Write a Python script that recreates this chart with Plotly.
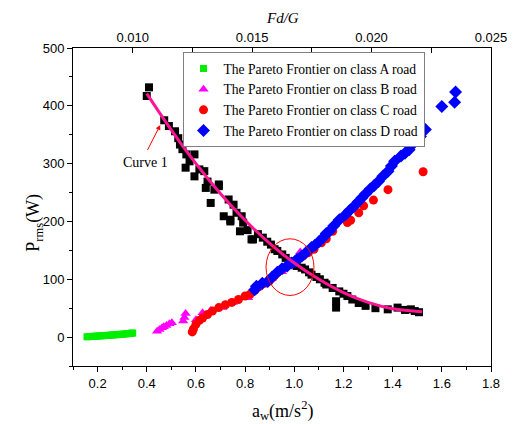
import plotly.graph_objects as go

# ---------------- data ----------------
# Class A road (green squares)
a_x = [0.157, 0.165, 0.172, 0.180, 0.188, 0.195, 0.203, 0.211, 0.219, 0.227, 0.235,
       0.243, 0.251, 0.259, 0.267, 0.275, 0.283, 0.291, 0.299, 0.307, 0.315, 0.323,
       0.331, 0.338, 0.343]
a_y = [0.5, 0.8, 1.0, 1.2, 1.4, 1.6, 1.9, 2.1, 2.3, 2.6, 2.8,
       3.1, 3.3, 3.6, 3.9, 4.1, 4.4, 4.7, 5.0, 5.3, 5.6, 5.9,
       6.3, 6.7, 7.0]

# Class B road (magenta triangles)
b_x = [0.442, 0.452, 0.462, 0.469, 0.480, 0.492, 0.502, 0.548, 0.553, 0.558,
       0.600, 0.627, 0.660, 0.707, 0.750, 0.812, 0.850, 0.900, 0.950, 1.000, 1.024]
b_y = [10, 13, 16, 18, 20, 23, 25, 28, 34, 41,
       30, 42, 46, 51, 60, 68, 86, 99, 113, 126, 147]

# Class C road (red circles)
c_x = [0.585, 0.590, 0.600, 0.614, 0.627, 0.647, 0.667, 0.693, 0.720, 0.746, 0.773,
       0.800, 0.820, 0.840, 0.859, 0.880, 0.898, 0.915, 0.931, 0.950, 0.971, 0.990,
       1.010, 1.035, 1.057, 1.080, 1.110, 1.130, 1.156, 1.216, 1.229, 1.262, 1.282,
       1.322, 1.381, 1.524]
c_y = [9, 14, 22, 29, 33, 39, 45, 51, 56, 60, 65,
       71, 74, 81, 88, 93, 97, 104, 111, 117, 123, 128,
       133, 140, 146, 152, 163, 170, 183, 198, 202, 215, 227,
       237, 255, 286]

# Class D road (blue diamonds)
d_x = [0.839, 0.846, 0.870, 0.892, 0.910, 0.931, 0.950, 0.971, 0.990, 1.004, 1.011,
       1.030, 1.050, 1.070, 1.084, 1.100, 1.117, 1.130, 1.143, 1.160, 1.183, 1.209,
       1.225, 1.242, 1.260, 1.275, 1.290, 1.309, 1.325, 1.342, 1.360, 1.381, 1.395,
       1.408, 1.434, 1.450, 1.467, 1.480, 1.500, 1.513, 1.533, 1.600, 1.652, 1.656]
d_y = [82, 88, 93, 96, 104, 112, 118, 123, 128, 131, 134,
       140, 147, 155, 159, 165, 172, 179, 183, 192, 203, 212,
       219, 226, 234, 241, 248, 256, 262, 269, 278, 287, 296,
       304, 313, 318, 324, 333, 340, 347, 359, 399, 406, 424]

# Black squares (unlabelled Pareto points)
k_x = [0.400, 0.409, 0.471, 0.490, 0.515, 0.528, 0.535, 0.545, 0.558, 0.561, 0.574,
       0.594, 0.594, 0.614, 0.634, 0.640, 0.647, 0.660, 0.675, 0.693, 0.693, 0.713,
       0.733, 0.740, 0.740, 0.753, 0.765, 0.779, 0.786, 0.792, 0.810, 0.826, 0.832,
       0.852, 0.872, 0.890, 0.905, 0.920, 0.931, 0.951, 0.965, 0.984, 1.000, 1.010,
       1.030, 1.044, 1.060, 1.070, 1.090, 1.104, 1.123, 1.130, 1.156, 1.170, 1.170,
       1.183, 1.200, 1.216, 1.236, 1.262, 1.290, 1.330, 1.380, 1.420, 1.450, 1.474,
       1.490, 1.507]
k_y = [417, 432, 375, 365, 356, 344, 333, 325, 293, 316, 304,
       316, 278, 290, 287, 258, 269, 232, 255, 264, 261, 209,
       238, 200, 203, 229, 215, 183, 209, 198, 185, 169, 169,
       178, 172, 165, 160, 152, 149, 143, 137, 131, 127, 123,
       120, 117, 112, 108, 104, 100, 94, 91, 85, 51, 62,
       79, 75, 71, 65, 59, 54, 50, 48, 51, 47, 48,
       45, 43]

# Curve 1 (fitted line)
curve_x = [0.40, 0.50, 0.60, 0.70, 0.80, 0.90, 1.00, 1.10, 1.20, 1.30, 1.40, 1.52]
curve_y = [421, 358, 300, 248, 202, 162, 128, 100, 77, 60, 49, 44]

# Tick labels
x_ticks = [0.2, 0.4, 0.6, 0.8, 1.0, 1.2, 1.4, 1.6, 1.8]
y_ticks = [0, 100, 200, 300, 400, 500]
top_ticks = [0.010, 0.015, 0.020, 0.025]
top_labels = ["0.010", "0.015", "0.020", "0.025"]

SERIF = "Liberation Serif, Times New Roman, serif"
SANS = "Liberation Sans, Arial, sans-serif"

fig = go.Figure()

fig.add_trace(go.Scatter(x=k_x, y=k_y, mode="markers", showlegend=False,
                         marker=dict(symbol="square", size=8, color="black")))
fig.add_trace(go.Scatter(x=a_x, y=a_y, mode="markers",
                         name="The Pareto Frontier on class A road",
                         marker=dict(symbol="square", size=7, color="#00ee00")))
fig.add_trace(go.Scatter(x=b_x, y=b_y, mode="markers",
                         name="The Pareto Frontier on class B road",
                         marker=dict(symbol="triangle-up", size=9, color="#ff00ff")))
fig.add_trace(go.Scatter(x=c_x, y=c_y, mode="markers",
                         name="The Pareto Frontier on class C road",
                         marker=dict(symbol="circle", size=9, color="#ff0000")))
fig.add_trace(go.Scatter(x=d_x, y=d_y, mode="markers",
                         name="The Pareto Frontier on class D road",
                         marker=dict(symbol="diamond", size=10, color="#0000ff")))
fig.add_trace(go.Scatter(x=curve_x, y=curve_y, mode="lines", showlegend=False,
                         line=dict(color="#ff1493", width=3, shape="spline")))
# invisible trace to activate the top axis
fig.add_trace(go.Scatter(x=[top_ticks[0]], y=[None], xaxis="x2", mode="markers",
                         showlegend=False, hoverinfo="skip"))

fig.update_layout(
    width=519, height=424,
    margin=dict(l=73, r=17, t=48, b=58),
    paper_bgcolor="white", plot_bgcolor="white",
    font=dict(family=SANS, size=13, color="black"),
    xaxis=dict(range=[0.1, 1.8], tickvals=x_ticks, tickformat=".1f",
               ticks="outside", ticklen=5, tickcolor="black",
               minor=dict(dtick=0.1, ticks="outside", ticklen=3, tickcolor="black"),
               showline=True, linecolor="black", linewidth=1,
               showgrid=False, zeroline=False),
    xaxis2=dict(range=[0.0075, 0.025], overlaying="x", side="top", anchor="y",
                tickvals=top_ticks, ticktext=top_labels,
                ticks="inside", ticklen=5, tickcolor="black",
                minor=dict(tickvals=[0.0125, 0.0175, 0.0225], ticks="inside",
                           ticklen=5, tickcolor="black"),
                showline=True, linecolor="black", linewidth=1,
                showgrid=False, zeroline=False),
    yaxis=dict(range=[-50, 500], tickvals=y_ticks,
               ticks="outside", ticklen=5, tickcolor="black",
               minor=dict(dtick=50, ticks="outside", ticklen=3, tickcolor="black"),
               showline=True, linecolor="black", linewidth=1, mirror=True,
               showgrid=False, zeroline=False),
    legend=dict(x=0.262, y=0.987, xanchor="left", yanchor="top",
                bgcolor="white", bordercolor="#808080", borderwidth=1,
                font=dict(family=SERIF, size=13.6), tracegroupgap=0),
    shapes=[dict(type="circle", xref="x", yref="y", x0=0.885, x1=1.08,
                 y0=72, y1=170, line=dict(color="#ff0000", width=1))],
    annotations=[
        dict(text="Curve 1", x=0.394, y=302, xref="x", yref="y", showarrow=False,
             font=dict(family=SERIF, size=14)),
        dict(text="", x=0.455, y=367, ax=0.40, ay=321, xref="x", yref="y",
             axref="x", ayref="y", showarrow=True, arrowhead=2, arrowsize=1,
             arrowwidth=1, arrowcolor="#ff0000"),
        dict(text="<i>Fd/G</i>", x=0.5, y=1.125, xref="paper", yref="paper",
             showarrow=False, font=dict(family=SERIF, size=15)),
        dict(text="a<sub>w</sub>(m/s<sup>2</sup>)", x=0.5, y=-0.14, xref="paper",
             yref="paper", showarrow=False, yanchor="middle",
             font=dict(family=SERIF, size=18)),
        dict(text="P<sub>rms</sub>(W)", x=-0.1235, y=0.45, xref="paper",
             yref="paper", showarrow=False, textangle=-90,
             font=dict(family=SERIF, size=18)),
    ],
)

fig.write_html("out.html")
